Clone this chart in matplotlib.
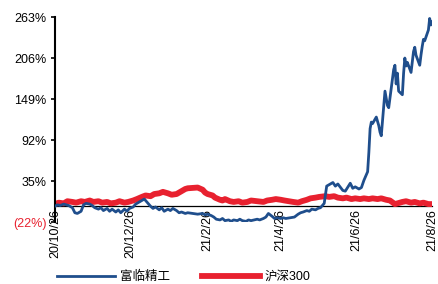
import matplotlib
matplotlib.use("Agg")
import matplotlib.pyplot as plt
import pandas as pd

plt.rcParams['font.family'] = ['Liberation Sans', 'Noto Sans CJK SC', 'DejaVu Sans']

# 富临精工 cumulative return (%)
blue_dates = [
    "2020-10-26", "2020-10-28", "2020-10-30",
    "2020-11-02", "2020-11-04", "2020-11-06", "2020-11-09", "2020-11-11", "2020-11-13", "2020-11-16",
    "2020-11-18", "2020-11-20", "2020-11-23", "2020-11-25", "2020-11-27", "2020-11-30",
    "2020-12-02", "2020-12-04", "2020-12-07", "2020-12-09", "2020-12-11", "2020-12-14", "2020-12-16",
    "2020-12-18", "2020-12-21", "2020-12-23", "2020-12-25", "2020-12-28", "2020-12-30",
    "2021-01-04", "2021-01-06", "2021-01-08", "2021-01-11", "2021-01-13", "2021-01-15", "2021-01-18",
    "2021-01-20", "2021-01-22", "2021-01-25", "2021-01-27", "2021-01-29",
    "2021-02-01", "2021-02-03", "2021-02-05", "2021-02-08", "2021-02-10", "2021-02-18", "2021-02-22",
    "2021-02-24", "2021-02-26",
    "2021-03-01", "2021-03-03", "2021-03-05", "2021-03-08", "2021-03-10", "2021-03-12", "2021-03-15",
    "2021-03-17", "2021-03-19", "2021-03-22", "2021-03-24", "2021-03-26", "2021-03-29", "2021-03-31",
    "2021-04-02", "2021-04-07", "2021-04-09", "2021-04-12", "2021-04-14", "2021-04-16", "2021-04-19",
    "2021-04-21", "2021-04-23", "2021-04-26", "2021-04-28", "2021-04-30",
    "2021-05-07", "2021-05-10", "2021-05-12", "2021-05-14", "2021-05-17", "2021-05-19", "2021-05-21",
    "2021-05-24", "2021-05-26", "2021-05-28", "2021-05-31",
    "2021-06-02", "2021-06-04", "2021-06-07", "2021-06-09", "2021-06-11", "2021-06-15", "2021-06-17",
    "2021-06-21", "2021-06-23", "2021-06-25", "2021-06-28", "2021-06-30",
    "2021-07-02", "2021-07-05", "2021-07-06", "2021-07-07", "2021-07-08", "2021-07-09", "2021-07-12",
    "2021-07-13", "2021-07-14", "2021-07-15", "2021-07-16", "2021-07-19", "2021-07-20", "2021-07-21",
    "2021-07-22", "2021-07-23", "2021-07-26", "2021-07-27", "2021-07-28", "2021-07-29", "2021-07-30",
    "2021-08-02", "2021-08-03", "2021-08-04", "2021-08-05", "2021-08-06", "2021-08-09", "2021-08-10",
    "2021-08-11", "2021-08-12", "2021-08-13", "2021-08-16", "2021-08-17", "2021-08-18", "2021-08-19",
    "2021-08-20", "2021-08-23", "2021-08-24", "2021-08-25", "2021-08-26",
]
blue_values = [
    0, 2, 1,
    3, 2, 1, -2, -9, -10, -7, 2, 4, 3, 1, -2, -4,
    -2, -6, -3, -7, -4, -8, -5, -9, -4, -7, -3, -1, 3,
    8, 10, 6, 0, -3, -1, -5, -2, -7, -4, -6, -3,
    -6, -9, -8, -10, -9, -11, -10, -12, -11,
    -13, -15, -18, -19, -17, -20, -19, -21, -19, -20, -18, -20, -21, -19,
    -20, -18, -19, -17, -15, -10, -14, -17, -16, -17, -16, -17,
    -15, -11, -9, -8, -6, -7, -4, -5, -3, -2, 4,
    28, 30, 33, 28, 31, 22, 21, 32, 25, 27, 24, 26,
    36, 48, 75, 108, 117, 115, 124, 118, 112, 103, 98, 160, 150, 140, 137, 150, 190, 196, 170, 185, 160,
    155, 185, 206, 195, 200, 186, 200, 215, 221, 210, 196, 210, 222, 232, 230, 245, 261, 252, 256,
]

# 沪深300 cumulative return (%)
red_dates = [
    "2020-10-26", "2020-10-29",
    "2020-11-02", "2020-11-05", "2020-11-09", "2020-11-12", "2020-11-16", "2020-11-19", "2020-11-23",
    "2020-11-26", "2020-11-30",
    "2020-12-03", "2020-12-07", "2020-12-10", "2020-12-14", "2020-12-17", "2020-12-21", "2020-12-24",
    "2020-12-28", "2020-12-31",
    "2021-01-04", "2021-01-07", "2021-01-11", "2021-01-14", "2021-01-18", "2021-01-21", "2021-01-25",
    "2021-01-28",
    "2021-02-01", "2021-02-04", "2021-02-08", "2021-02-10", "2021-02-18", "2021-02-22", "2021-02-24",
    "2021-02-26",
    "2021-03-02", "2021-03-04", "2021-03-08", "2021-03-10", "2021-03-12", "2021-03-16", "2021-03-19",
    "2021-03-23", "2021-03-26", "2021-03-30",
    "2021-04-02", "2021-04-07", "2021-04-12", "2021-04-15", "2021-04-19", "2021-04-22", "2021-04-26",
    "2021-04-29",
    "2021-05-06", "2021-05-10", "2021-05-13", "2021-05-17", "2021-05-20", "2021-05-24", "2021-05-27",
    "2021-06-01", "2021-06-04", "2021-06-08", "2021-06-11", "2021-06-15", "2021-06-18", "2021-06-22",
    "2021-06-25", "2021-06-29",
    "2021-07-02", "2021-07-06", "2021-07-09", "2021-07-13", "2021-07-16", "2021-07-20", "2021-07-23",
    "2021-07-27", "2021-07-29",
    "2021-08-02", "2021-08-05", "2021-08-09", "2021-08-12", "2021-08-16", "2021-08-19", "2021-08-23",
    "2021-08-26",
]
red_values = [
    3, 5,
    4, 7, 6, 5, 7, 6, 8, 6, 7,
    5, 6, 4, 5, 7, 5, 6, 8, 10,
    13, 15, 14, 17, 18, 20, 18, 16,
    17, 20, 24, 25, 26, 23, 19, 17,
    15, 12, 9, 8, 10, 7, 6, 7, 5, 6,
    8, 7, 6, 8, 9, 10, 9, 8,
    6, 5, 7, 9, 11, 12, 13,
    14, 13, 14, 12, 11, 12, 10, 11, 10,
    11, 10, 11, 10, 11, 9, 8, 3, 4,
    6, 7, 5, 6, 4, 5, 3, 3,
]

y_ticks = [-22, 35, 92, 149, 206, 263]
y_labels = ["(22%)", "35%", "92%", "149%", "206%", "263%"]
x_ticks = ["2020-10-26", "2020-12-26", "2021-02-26", "2021-04-26", "2021-06-26", "2021-08-26"]
x_labels = ["20/10/26", "20/12/26", "21/2/26", "21/4/26", "21/6/26", "21/8/26"]

blue = "#1F4E8C"
red = "#E8212F"

fig = plt.figure(figsize=(4.38, 2.84), dpi=100)
ax = fig.add_axes([0.1256, 0.218, 0.861, 0.722])

ax.plot(pd.to_datetime(red_dates), red_values, color=red, lw=4.2, label="沪深300", zorder=2)
ax.plot(pd.to_datetime(blue_dates), blue_values, color=blue, lw=2.0, label="富临精工", zorder=3)

ax.set_xlim(pd.Timestamp(x_ticks[0]), pd.Timestamp(x_ticks[-1]))
ax.set_ylim(-22, 263)

# x axis sits on the zero line
ax.spines['bottom'].set_position(('data', 0))
ax.spines['bottom'].set_linewidth(0.9)
ax.spines['bottom'].set_zorder(1)
ax.spines['left'].set_linewidth(1.5)
ax.spines['top'].set_visible(False)
ax.spines['right'].set_visible(False)

ax.set_xticks(pd.to_datetime(x_ticks))
ax.set_xticklabels(x_labels, rotation=90, fontsize=9)
ax.tick_params(axis='x', length=0, pad=2)

ax.set_yticks(y_ticks)
ax.set_yticklabels(y_labels, fontsize=9)
ax.tick_params(axis='y', length=3, width=1.2, direction='out', pad=3)
ax.get_yticklabels()[0].set_color(red)

h, l = ax.get_legend_handles_labels()
fig.legend(h[::-1], l[::-1], loc='center', bbox_to_anchor=(0.42, 0.025), ncol=2,
           frameon=False, fontsize=9, handlelength=4.6, columnspacing=2.6,
           handletextpad=0.4)

fig.savefig("out.png", dpi=100)
